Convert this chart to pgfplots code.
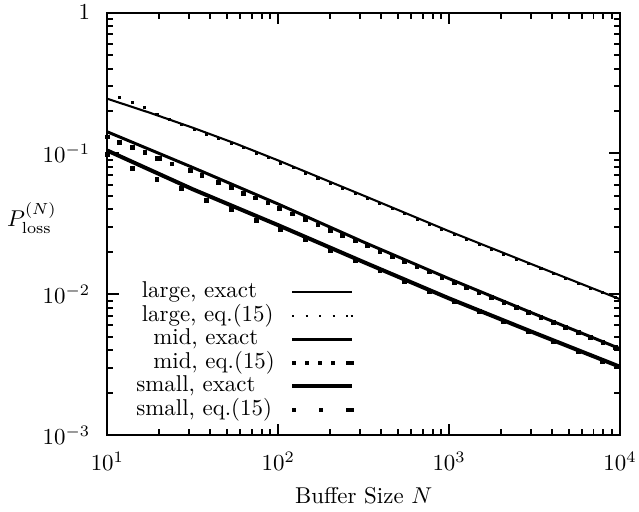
\documentclass[border=0pt]{standalone}
\usepackage{pgfplots}
\pgfplotsset{compat=1.18}
% legend text box: fixed width, with a left indent
\newcommand{\legtext}[2]{\makebox[67.1pt][l]{\hspace*{#1}#2}}
\begin{document}
\begin{tikzpicture}
% fixed page frame around the axis box (axis box lower-left corner sits at the origin)
\path[use as bounding box] (-46.9pt,-33.6pt) rectangle (232.2pt,190pt);
\begin{axis}[
  scale only axis,
  width=223.9pt, height=184.5pt,
  xmode=log, ymode=log,
  xmin=10, xmax=10000, ymin=1e-3, ymax=1,
  axis line style={line width=0.85pt},
  tick pos=both, tick align=inside,
  tick style={black, line width=0.85pt},
  major tick length=5pt, minor tick length=2.6pt,
  xtick={10,100,1000,10000},
  xticklabels={$10^{1}$,$10^{2}$,$10^{3}$,$10^{4}$},
  minor xtick={20,30,40,50,60,70,80,90,200,300,400,500,600,700,800,900,2000,3000,4000,5000,6000,7000,8000,9000},
  ytick={0.001,0.01,0.1,1},
  yticklabels={$10^{-3}$,$10^{-2}$,$10^{-1}$,$1$},
  minor ytick={0.002,0.003,0.004,0.005,0.006,0.007,0.008,0.009,0.02,0.03,0.04,0.05,0.06,0.07,0.08,0.09,0.2,0.3,0.4,0.5,0.6,0.7,0.8,0.9},
  xticklabel style={yshift=-4pt},
  yticklabel style={xshift=-4pt},
  xlabel={Buffer Size $N$},
  ylabel={$P_{\mathrm{loss}}^{(N)}$},
  xlabel style={at={(axis description cs:0.5,-0.144)}, anchor=center},
  ylabel style={at={(axis description cs:-0.083,0.514)}, anchor=east, rotate=-90},
  legend style={draw=none, fill=none, at={(axis description cs:0.0566,0.032)}, anchor=south west,
    inner sep=0pt, outer sep=0pt, row sep=0pt, column sep=0pt,
    nodes={inner sep=0pt, text height=7.5pt, text depth=2.76pt}},
  legend cell align=left,
  legend plot pos=right,
]
% large buffer: exact result
\addplot[black, line width=0.9pt,
  legend image code/.code={\draw[black, line width=0.9pt] (0pt,0pt) -- (26.2pt,0pt);}]
  coordinates {(10,0.2443) (17.78,0.1941) (31.62,0.1521) (56.23,0.1175) (100,0.0891) (177.8,0.0668) (316.2,0.0501) (562.3,0.03746) (1000,0.02799) (3162,0.01603) (10000,0.00921)};
\addlegendentry{\legtext{2.36pt}{large, exact}}
% large buffer: eq.(15)
\addplot[black, only marks, mark=square*, mark size=0.45pt,
  legend image code/.code={\draw[black, line width=0.9pt, dash pattern=on 0.9pt off 5pt] (0pt,0pt) -- (24.5pt,0pt); \draw[black, line width=0.9pt] (25.6pt,0pt) -- (26.5pt,0pt);}]
  coordinates {(11.82,0.2500) (13.96,0.2317) (16.50,0.2123) (19.50,0.1901) (23.04,0.1738) (27.23,0.1600) (32.18,0.1483) (38.02,0.1368) (44.93,0.1282) (53.09,0.1172) (62.74,0.1096) (74.13,0.1005) (87.60,0.0933) (103.5,0.0852) (122.3,0.0791) (144.5,0.0724) (170.8,0.0668) (201.8,0.0613) (238.5,0.0566) (281.8,0.0519) (333.0,0.0479) (393.6,0.0439) (465.1,0.0405) (549.5,0.0372) (649.4,0.0342) (767.4,0.0313) (906.8,0.0289) (1071.5,0.02657) (1266,0.02449) (1496,0.02259) (1768,0.02084) (2089,0.01928) (2470,0.01774) (2917,0.01641) (3448,0.01514) (4074,0.01400) (4814,0.01294) (5689,0.01197) (6723,0.01104) (7943,0.01021) (9386,0.00944)};
\addlegendentry{\legtext{2.36pt}{large, eq.(15)}}
% mid buffer: exact result
\addplot[black, line width=1.3pt,
  legend image code/.code={\draw[black, line width=1.3pt] (0pt,0pt) -- (26.2pt,0pt);}]
  coordinates {(10,0.1422) (31.62,0.0794) (100,0.04365) (316.2,0.02344) (1000,0.01288) (3162,0.00724) (10000,0.00410)};
\addlegendentry{\legtext{7.4pt}{mid, exact}}
% mid buffer: eq.(15)
\addplot[black, only marks, mark=square*, mark size=0.8pt,
  legend image code/.code={\draw[black, line width=1.7pt, dash pattern=on 1.7pt off 4pt] (0pt,0pt) -- (19pt,0pt); \draw[black, line width=1.7pt] (23.6pt,0pt) -- (27.2pt,0pt);}]
  coordinates {(10,0.1306) (11.8,0.1193) (14,0.1097) (16.6,0.1011) (19.5,0.0921) (20.2,0.0921) (23.9,0.0839) (30.5,0.0755) (35.7,0.0694) (44.6,0.0619) (53.4,0.0570) (62.6,0.0517) (73.3,0.0483) (87.1,0.0444) (102,0.0405) (121,0.0372) (144.5,0.03385) (170.8,0.03107) (201.8,0.02847) (238.5,0.02607) (281.8,0.02393) (333.0,0.02195) (393.6,0.02017) (465.1,0.01853) (549.5,0.01703) (649.4,0.01565) (767.4,0.01438) (906.8,0.01318) (1071.5,0.01213) (1266,0.01116) (1496,0.01029) (1768,0.009467) (2089,0.00871) (2470,0.00803) (2917,0.00739) (3448,0.00680) (4074,0.00628) (4814,0.00579) (5689,0.00533) (6723,0.00491) (7943,0.00453) (9386,0.00417)};
\addlegendentry{\legtext{7.4pt}{mid, eq.(15)}}
% small buffer: exact result
\addplot[black, line width=1.75pt,
  legend image code/.code={\draw[black, line width=1.75pt] (0pt,0pt) -- (26.2pt,0pt);}]
  coordinates {(10,0.1047) (31.62,0.0556) (100,0.0309) (316.2,0.0169) (1000,0.00933) (3162,0.00531) (10000,0.00305)};
\addlegendentry{\legtext{0pt}{small, exact}}
% small buffer: eq.(15)
\addplot[black, only marks, mark=square*, mark size=0.85pt,
  legend image code/.code={\draw[black, line width=1.7pt, dash pattern=on 1.7pt off 10.1pt] (0pt,0pt) -- (13.5pt,0pt); \draw[black, line width=1.7pt] (23.6pt,0pt) -- (27.2pt,0pt);}]
  coordinates {(10,0.0977) (13.96,0.0782) (19.50,0.0657) (27.23,0.0563) (38.02,0.0466) (53.09,0.0400) (74.13,0.0336) (103.5,0.02885) (144.5,0.02433) (201.8,0.02052) (281.8,0.01731) (393.6,0.01462) (549.5,0.01234) (767.4,0.01040) (1071.5,0.00880) (1496,0.00749) (2089,0.00636) (2917,0.00541) (4074,0.00460) (5689,0.00392) (7943,0.00334)};
\addlegendentry{\legtext{0pt}{small, eq.(15)}}
\end{axis}
\end{tikzpicture}
\end{document}
